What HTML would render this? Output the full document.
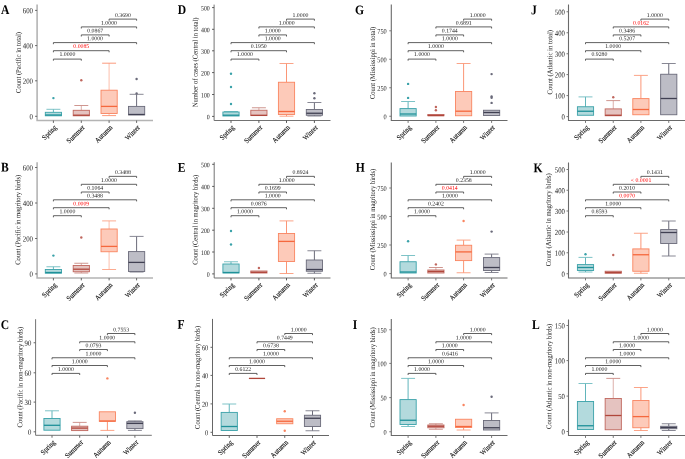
<!DOCTYPE html>
<html><head><meta charset="utf-8"><style>
html,body{margin:0;padding:0;background:#fff;}
svg{display:block;}
text{font-family:"Liberation Serif", serif;}
.lt{font-size:13.2px;font-weight:bold;fill:#000;}
.yl{font-size:7.2px;fill:#111;text-anchor:middle;}
.tk{fill:#222;text-anchor:end;}
.xl{font-size:7.3px;fill:#111;stroke:#111;stroke-width:0.12px;text-anchor:end;}
.bl{font-size:5.8px;fill:#222;text-anchor:middle;}
.bl.r{fill:#f00;}
</style></head><body>
<svg width="685" height="459" viewBox="0 0 685 459">
<rect width="685" height="459" fill="#fff"/>
<g style="will-change:transform">
<g><text transform="translate(1,13.9) rotate(0.05) scale(0.88,1)" class="lt">A</text><text class="yl" transform="translate(20.7,62.5) rotate(-89.95)" textLength="61" lengthAdjust="spacingAndGlyphs">Count (Pacific in total)</text><path d="M37.1 4.5V120.5H153" fill="none" stroke="#b4b4b4" stroke-width="1.6"/><path d="M35.1 116.3H37.1" stroke="#666" stroke-width="1"/><text transform="translate(33,119.2) rotate(0.05) scale(0.86,1)" class="tk" style="font-size:7.91px">0</text><path d="M35.1 80.8H37.1" stroke="#666" stroke-width="1"/><text transform="translate(33,83.7) rotate(0.05) scale(0.86,1)" class="tk" style="font-size:7.91px">200</text><path d="M35.1 45.6H37.1" stroke="#666" stroke-width="1"/><text transform="translate(33,48.5) rotate(0.05) scale(0.86,1)" class="tk" style="font-size:7.91px">400</text><path d="M35.1 10.4H37.1" stroke="#666" stroke-width="1"/><text transform="translate(33,13.3) rotate(0.05) scale(0.86,1)" class="tk" style="font-size:7.91px">600</text><path d="M53.4 120.5V122.9" stroke="#666" stroke-width="1"/><text class="xl" transform="translate(57.2,128) rotate(-45) scale(0.9,1)">Spring</text><path d="M81.3 120.5V122.9" stroke="#666" stroke-width="1"/><text class="xl" transform="translate(85.1,128) rotate(-45) scale(0.9,1)">Summer</text><path d="M109.1 120.5V122.9" stroke="#666" stroke-width="1"/><text class="xl" transform="translate(112.9,128) rotate(-45) scale(0.9,1)">Autumn</text><path d="M136.6 120.5V122.9" stroke="#666" stroke-width="1"/><text class="xl" transform="translate(140.4,128) rotate(-45) scale(0.9,1)">Winter</text><path d="M53.4 112.3V109.3" stroke="#4fadb3" stroke-width="0.9"/><path d="M46.43 109.3H60.37" stroke="#6fbcc1" stroke-width="0.9"/><rect x="45.3" y="112.3" width="16.2" height="3.5" fill="#b3dadd" stroke="#3aa2a9" stroke-width="0.9"/><path d="M45.3 115H61.5" stroke="#1f9199" stroke-width="1.3"/><circle cx="53.4" cy="98.1" r="1.2" fill="#3aa2a9"/><path d="M81.3 110.3V105.5" stroke="#d8a6a0" stroke-width="0.9"/><path d="M74.33 105.5H88.27" stroke="#c98a83" stroke-width="0.9"/><rect x="73.2" y="110.3" width="16.2" height="5.5" fill="#e5c3c0" stroke="#c0675e" stroke-width="0.9"/><path d="M73.2 115.2H89.4" stroke="#b0463b" stroke-width="1.3"/><circle cx="81.3" cy="80.3" r="1.2" fill="#c0675e"/><path d="M109.1 90.2V63.2" stroke="#fcb8a3" stroke-width="0.9"/><path d="M102.13 63.2H116.07" stroke="#fb8f6e" stroke-width="0.9"/><path d="M109.1 113.5V115.6" stroke="#fcb8a3" stroke-width="0.9"/><path d="M102.13 115.6H116.07" stroke="#fb8f6e" stroke-width="0.9"/><rect x="101" y="90.2" width="16.2" height="23.3" fill="#fdcab9" stroke="#f98560" stroke-width="0.9"/><path d="M101 106.4H117.2" stroke="#f5683e" stroke-width="1.3"/><path d="M136.6 106.4V94.3" stroke="#5a5a6a" stroke-width="0.9"/><path d="M129.63 94.3H143.57" stroke="#7a7a88" stroke-width="0.9"/><rect x="128.5" y="106.4" width="16.2" height="8.5" fill="#bdbdc6" stroke="#6a6a7a" stroke-width="0.9"/><path d="M128.5 114.5H144.7" stroke="#404052" stroke-width="1.3"/><circle cx="136.6" cy="79" r="1.2" fill="#6a6a7a"/><circle cx="136.6" cy="93.4" r="1.2" fill="#6a6a7a"/><path d="M53.4 60.7V59.1H81.3V60.7" fill="none" stroke="#444" stroke-width="0.85"/><text transform="translate(67.35,56.1) rotate(0.05)" class="bl">1.0000</text><path d="M53.4 52.3V50.7H109.1V52.3" fill="none" stroke="#444" stroke-width="0.85"/><text transform="translate(81.25,48) rotate(0.05)" class="bl r">0.0085</text><path d="M53.4 44.2V42.6H136.6V44.2" fill="none" stroke="#444" stroke-width="0.85"/><text transform="translate(95,40.2) rotate(0.05)" class="bl">1.0000</text><path d="M81.3 36.5V34.9H109.1V36.5" fill="none" stroke="#444" stroke-width="0.85"/><text transform="translate(95.2,32.4) rotate(0.05)" class="bl">0.0867</text><path d="M81.3 28.5V26.9H136.6V28.5" fill="none" stroke="#444" stroke-width="0.85"/><text transform="translate(108.95,24.7) rotate(0.05)" class="bl">1.0000</text><path d="M109.1 20.7V19.1H136.6V20.7" fill="none" stroke="#444" stroke-width="0.85"/><text transform="translate(122.85,16.9) rotate(0.05)" class="bl">0.3690</text></g>
<g><text transform="translate(1,171.5) rotate(0.05) scale(0.88,1)" class="lt">B</text><text class="yl" transform="translate(20.3,219.8) rotate(-89.95)" textLength="90" lengthAdjust="spacingAndGlyphs">Count (Pacific in magritory birds)</text><path d="M37.1 162.2V278H153" fill="none" stroke="#b4b4b4" stroke-width="1.6"/><path d="M35.1 273.9H37.1" stroke="#666" stroke-width="1"/><text transform="translate(33,276.8) rotate(0.05) scale(0.86,1)" class="tk" style="font-size:7.91px">0</text><path d="M35.1 238.5H37.1" stroke="#666" stroke-width="1"/><text transform="translate(33,241.4) rotate(0.05) scale(0.86,1)" class="tk" style="font-size:7.91px">200</text><path d="M35.1 203H37.1" stroke="#666" stroke-width="1"/><text transform="translate(33,205.9) rotate(0.05) scale(0.86,1)" class="tk" style="font-size:7.91px">400</text><path d="M35.1 167.5H37.1" stroke="#666" stroke-width="1"/><text transform="translate(33,170.4) rotate(0.05) scale(0.86,1)" class="tk" style="font-size:7.91px">600</text><path d="M53.4 278V280.4" stroke="#666" stroke-width="1"/><text class="xl" transform="translate(57.2,285.5) rotate(-45) scale(0.9,1)">Spring</text><path d="M81.3 278V280.4" stroke="#666" stroke-width="1"/><text class="xl" transform="translate(85.1,285.5) rotate(-45) scale(0.9,1)">Summer</text><path d="M109.1 278V280.4" stroke="#666" stroke-width="1"/><text class="xl" transform="translate(112.9,285.5) rotate(-45) scale(0.9,1)">Autumn</text><path d="M136.6 278V280.4" stroke="#666" stroke-width="1"/><text class="xl" transform="translate(140.4,285.5) rotate(-45) scale(0.9,1)">Winter</text><path d="M53.4 269.5V266.75" stroke="#4fadb3" stroke-width="0.9"/><path d="M46.43 266.75H60.37" stroke="#6fbcc1" stroke-width="0.9"/><rect x="45.3" y="269.5" width="16.2" height="3.7" fill="#b3dadd" stroke="#3aa2a9" stroke-width="0.9"/><path d="M45.3 272.5H61.5" stroke="#1f9199" stroke-width="1.3"/><circle cx="53.4" cy="255.6" r="1.2" fill="#3aa2a9"/><path d="M81.3 265.5V263.25" stroke="#d8a6a0" stroke-width="0.9"/><path d="M74.33 263.25H88.27" stroke="#c98a83" stroke-width="0.9"/><path d="M81.3 271.75V273" stroke="#d8a6a0" stroke-width="0.9"/><path d="M74.33 273H88.27" stroke="#c98a83" stroke-width="0.9"/><rect x="73.2" y="265.5" width="16.2" height="6.25" fill="#e5c3c0" stroke="#c0675e" stroke-width="0.9"/><path d="M73.2 269.2H89.4" stroke="#b0463b" stroke-width="1.3"/><circle cx="81.3" cy="237.5" r="1.2" fill="#c0675e"/><path d="M109.1 229V220.9" stroke="#fcb8a3" stroke-width="0.9"/><path d="M102.13 220.9H116.07" stroke="#fca284" stroke-width="0.9"/><path d="M109.1 251.75V269.5" stroke="#fcb8a3" stroke-width="0.9"/><path d="M102.13 269.5H116.07" stroke="#fca284" stroke-width="0.9"/><rect x="101" y="229" width="16.2" height="22.75" fill="#fdcab9" stroke="#f98560" stroke-width="0.9"/><path d="M101 246.4H117.2" stroke="#f5683e" stroke-width="1.3"/><path d="M136.6 251.6V236.4" stroke="#5a5a6a" stroke-width="0.9"/><path d="M129.63 236.4H143.57" stroke="#7a7a88" stroke-width="0.9"/><path d="M136.6 271.5V272" stroke="#5a5a6a" stroke-width="0.9"/><path d="M129.63 272H143.57" stroke="#7a7a88" stroke-width="0.9"/><rect x="128.5" y="251.6" width="16.2" height="19.9" fill="#bdbdc6" stroke="#6a6a7a" stroke-width="0.9"/><path d="M128.5 262.4H144.7" stroke="#404052" stroke-width="1.3"/><path d="M53.4 217.3V215.7H81.3V217.3" fill="none" stroke="#444" stroke-width="0.85"/><text transform="translate(67.35,213.35) rotate(0.05)" class="bl">1.0000</text><path d="M53.4 209.3V207.7H109.1V209.3" fill="none" stroke="#444" stroke-width="0.85"/><text transform="translate(81.25,205.4) rotate(0.05)" class="bl r">0.0009</text><path d="M53.4 201.4V199.8H136.6V201.4" fill="none" stroke="#444" stroke-width="0.85"/><text transform="translate(95,197.6) rotate(0.05)" class="bl">0.3488</text><path d="M81.3 193.6V192H109.1V193.6" fill="none" stroke="#444" stroke-width="0.85"/><text transform="translate(95.2,189.8) rotate(0.05)" class="bl">0.1064</text><path d="M81.3 185.9V184.3H136.6V185.9" fill="none" stroke="#444" stroke-width="0.85"/><text transform="translate(108.95,182) rotate(0.05)" class="bl">1.0000</text><path d="M109.1 177.95V176.35H136.6V177.95" fill="none" stroke="#444" stroke-width="0.85"/><text transform="translate(122.85,174) rotate(0.05)" class="bl">0.3488</text></g>
<g><text transform="translate(0.8,329.1) rotate(0.05) scale(0.88,1)" class="lt">C</text><text class="yl" transform="translate(22.4,377.1) rotate(-89.95)" textLength="100.6" lengthAdjust="spacingAndGlyphs">Count (Pacific in non-magritory birds)</text><path d="M35.6 319.2V435.3H151.8" fill="none" stroke="#737373" stroke-width="1.0"/><path d="M33.6 431.8H35.6" stroke="#666" stroke-width="1"/><text transform="translate(31.3,434.7) rotate(0.05) scale(0.86,1)" class="tk" style="font-size:7.91px">0</text><path d="M33.6 402.1H35.6" stroke="#666" stroke-width="1"/><text transform="translate(31.3,405) rotate(0.05) scale(0.86,1)" class="tk" style="font-size:7.91px">30</text><path d="M33.6 372.8H35.6" stroke="#666" stroke-width="1"/><text transform="translate(31.3,375.7) rotate(0.05) scale(0.86,1)" class="tk" style="font-size:7.91px">60</text><path d="M33.6 342.75H35.6" stroke="#666" stroke-width="1"/><text transform="translate(31.3,345.65) rotate(0.05) scale(0.86,1)" class="tk" style="font-size:7.91px">90</text><path d="M52 435.3V437.7" stroke="#666" stroke-width="1"/><text class="xl" transform="translate(55.8,442.8) rotate(-45) scale(0.9,1)">Spring</text><path d="M79.7 435.3V437.7" stroke="#666" stroke-width="1"/><text class="xl" transform="translate(83.5,442.8) rotate(-45) scale(0.9,1)">Summer</text><path d="M107.4 435.3V437.7" stroke="#666" stroke-width="1"/><text class="xl" transform="translate(111.2,442.8) rotate(-45) scale(0.9,1)">Autumn</text><path d="M134.9 435.3V437.7" stroke="#666" stroke-width="1"/><text class="xl" transform="translate(138.7,442.8) rotate(-45) scale(0.9,1)">Winter</text><path d="M52 418.5V410.8" stroke="#4fadb3" stroke-width="0.9"/><path d="M45.03 410.8H58.97" stroke="#6fbcc1" stroke-width="0.9"/><rect x="43.9" y="418.5" width="16.2" height="11.7" fill="#b3dadd" stroke="#3aa2a9" stroke-width="0.9"/><path d="M43.9 425.3H60.1" stroke="#1f9199" stroke-width="1.3"/><path d="M79.7 426.2V422.4" stroke="#d8a6a0" stroke-width="0.9"/><path d="M72.73 422.4H86.67" stroke="#c98a83" stroke-width="0.9"/><rect x="71.6" y="426.2" width="16.2" height="4.4" fill="#e5c3c0" stroke="#c0675e" stroke-width="0.9"/><path d="M71.6 428.1H87.8" stroke="#b0463b" stroke-width="1.3"/><path d="M107.4 421.3V430.4" stroke="#fa8a66" stroke-width="0.9"/><path d="M100.43 430.4H114.37" stroke="#fb9a7a" stroke-width="0.9"/><rect x="99.3" y="411.8" width="16.2" height="9.5" fill="#fdcab9" stroke="#f98560" stroke-width="0.9"/><path d="M99.3 421H115.5" stroke="#f5683e" stroke-width="1.3"/><circle cx="107.4" cy="378.4" r="1.2" fill="#f98560"/><path d="M134.9 421.7V420.9" stroke="#5a5a6a" stroke-width="0.9"/><path d="M127.93 420.9H141.87" stroke="#7a7a88" stroke-width="0.9"/><path d="M134.9 428.6V430.4" stroke="#5a5a6a" stroke-width="0.9"/><path d="M127.93 430.4H141.87" stroke="#7a7a88" stroke-width="0.9"/><rect x="126.8" y="421.7" width="16.2" height="6.9" fill="#bdbdc6" stroke="#6a6a7a" stroke-width="0.9"/><path d="M126.8 423.4H143" stroke="#404052" stroke-width="1.3"/><circle cx="134.9" cy="412.8" r="1.2" fill="#6a6a7a"/><path d="M52 375V373.4H79.7V375" fill="none" stroke="#444" stroke-width="0.85"/><text transform="translate(65.85,371) rotate(0.05)" class="bl">1.0000</text><path d="M52 367.1V365.5H107.4V367.1" fill="none" stroke="#444" stroke-width="0.85"/><text transform="translate(79.7,363.2) rotate(0.05)" class="bl">1.0000</text><path d="M52 359.35V357.75H134.9V359.35" fill="none" stroke="#444" stroke-width="0.85"/><text transform="translate(93.45,355.5) rotate(0.05)" class="bl">1.0000</text><path d="M79.7 351.1V349.5H107.4V351.1" fill="none" stroke="#444" stroke-width="0.85"/><text transform="translate(93.55,347.3) rotate(0.05)" class="bl">0.0793</text><path d="M79.7 343.35V341.75H134.9V343.35" fill="none" stroke="#444" stroke-width="0.85"/><text transform="translate(107.3,339.6) rotate(0.05)" class="bl">1.0000</text><path d="M107.4 335.1V333.5H134.9V335.1" fill="none" stroke="#444" stroke-width="0.85"/><text transform="translate(121.15,331.4) rotate(0.05)" class="bl">0.7553</text></g>
<g><text transform="translate(177.8,14) rotate(0.05) scale(0.88,1)" class="lt">D</text><text class="yl" transform="translate(197.6,62.4) rotate(-89.95)" textLength="89.8" lengthAdjust="spacingAndGlyphs">Number of cases (Central in total)</text><path d="M214.1 4.6V120.5H330.5" fill="none" stroke="#737373" stroke-width="1.0"/><path d="M212.1 116.4H214.1" stroke="#555" stroke-width="1"/><text transform="translate(209.8,119.3) rotate(0.05) scale(0.86,1)" class="tk" style="font-size:6.86px">0</text><path d="M212.1 94.5H214.1" stroke="#555" stroke-width="1"/><text transform="translate(209.8,97.4) rotate(0.05) scale(0.86,1)" class="tk" style="font-size:6.86px">100</text><path d="M212.1 72.6H214.1" stroke="#555" stroke-width="1"/><text transform="translate(209.8,75.5) rotate(0.05) scale(0.86,1)" class="tk" style="font-size:6.86px">200</text><path d="M212.1 50.8H214.1" stroke="#555" stroke-width="1"/><text transform="translate(209.8,53.7) rotate(0.05) scale(0.86,1)" class="tk" style="font-size:6.86px">300</text><path d="M212.1 29.3H214.1" stroke="#555" stroke-width="1"/><text transform="translate(209.8,32.2) rotate(0.05) scale(0.86,1)" class="tk" style="font-size:6.86px">400</text><path d="M212.1 7.6H214.1" stroke="#555" stroke-width="1"/><text transform="translate(209.8,10.5) rotate(0.05) scale(0.86,1)" class="tk" style="font-size:6.86px">500</text><path d="M231 120.5V122.9" stroke="#555" stroke-width="1"/><text class="xl" transform="translate(234.8,128) rotate(-45) scale(0.9,1)">Spring</text><path d="M258.9 120.5V122.9" stroke="#555" stroke-width="1"/><text class="xl" transform="translate(262.7,128) rotate(-45) scale(0.9,1)">Summer</text><path d="M286.5 120.5V122.9" stroke="#555" stroke-width="1"/><text class="xl" transform="translate(290.3,128) rotate(-45) scale(0.9,1)">Autumn</text><path d="M314.4 120.5V122.9" stroke="#555" stroke-width="1"/><text class="xl" transform="translate(318.2,128) rotate(-45) scale(0.9,1)">Winter</text><path d="M231 112V111.5" stroke="#4fadb3" stroke-width="0.9"/><path d="M224.03 111.5H237.97" stroke="#6fbcc1" stroke-width="0.9"/><rect x="222.9" y="112" width="16.2" height="4" fill="#b3dadd" stroke="#3aa2a9" stroke-width="0.9"/><path d="M222.9 115.2H239.1" stroke="#1f9199" stroke-width="1.3"/><circle cx="231" cy="73.75" r="1.2" fill="#3aa2a9"/><circle cx="231" cy="87" r="1.2" fill="#3aa2a9"/><circle cx="231" cy="104" r="1.2" fill="#3aa2a9"/><path d="M258.9 110.25V107.75" stroke="#d8a6a0" stroke-width="0.9"/><path d="M251.93 107.75H265.87" stroke="#c98a83" stroke-width="0.9"/><rect x="250.8" y="110.25" width="16.2" height="5.35" fill="#e5c3c0" stroke="#c0675e" stroke-width="0.9"/><path d="M250.8 115.3H267" stroke="#b0463b" stroke-width="1.3"/><path d="M286.5 82.25V63.5" stroke="#fa8a66" stroke-width="0.9"/><path d="M279.53 63.5H293.47" stroke="#fb9a7a" stroke-width="0.9"/><path d="M286.5 114.5V116.2" stroke="#fa8a66" stroke-width="0.9"/><path d="M279.53 116.2H293.47" stroke="#fb9a7a" stroke-width="0.9"/><rect x="278.4" y="82.25" width="16.2" height="32.25" fill="#fdcab9" stroke="#f98560" stroke-width="0.9"/><path d="M278.4 111.5H294.6" stroke="#f5683e" stroke-width="1.3"/><path d="M314.4 109.5V102.5" stroke="#5a5a6a" stroke-width="0.9"/><path d="M307.43 102.5H321.37" stroke="#7a7a88" stroke-width="0.9"/><path d="M314.4 115.25V116" stroke="#5a5a6a" stroke-width="0.9"/><path d="M307.43 116H321.37" stroke="#7a7a88" stroke-width="0.9"/><rect x="306.3" y="109.5" width="16.2" height="5.75" fill="#bdbdc6" stroke="#6a6a7a" stroke-width="0.9"/><path d="M306.3 113.25H322.5" stroke="#404052" stroke-width="1.3"/><circle cx="314.4" cy="93.25" r="1.2" fill="#6a6a7a"/><circle cx="314.4" cy="98.25" r="1.2" fill="#6a6a7a"/><path d="M231 60.7V59.1H258.9V60.7" fill="none" stroke="#444" stroke-width="0.85"/><text transform="translate(244.95,56.1) rotate(0.05)" class="bl">1.0000</text><path d="M231 52.3V50.7H286.5V52.3" fill="none" stroke="#444" stroke-width="0.85"/><text transform="translate(258.75,48) rotate(0.05)" class="bl">0.1950</text><path d="M231 44.2V42.6H314.4V44.2" fill="none" stroke="#444" stroke-width="0.85"/><text transform="translate(272.7,40.2) rotate(0.05)" class="bl">1.0000</text><path d="M258.9 36.5V34.9H286.5V36.5" fill="none" stroke="#444" stroke-width="0.85"/><text transform="translate(272.7,32.4) rotate(0.05)" class="bl">1.0000</text><path d="M258.9 28.5V26.9H314.4V28.5" fill="none" stroke="#444" stroke-width="0.85"/><text transform="translate(286.65,24.7) rotate(0.05)" class="bl">1.0000</text><path d="M286.5 20.7V19.1H314.4V20.7" fill="none" stroke="#444" stroke-width="0.85"/><text transform="translate(300.45,16.9) rotate(0.05)" class="bl">1.0000</text></g>
<g><text transform="translate(177.8,171.8) rotate(0.05) scale(0.88,1)" class="lt">E</text><text class="yl" transform="translate(197.6,219.8) rotate(-89.95)" textLength="90" lengthAdjust="spacingAndGlyphs">Count (Central in magritory birds)</text><path d="M214.2 162.2V278H330.5" fill="none" stroke="#737373" stroke-width="1.0"/><path d="M212.2 273.9H214.2" stroke="#555" stroke-width="1"/><text transform="translate(209.8,276.8) rotate(0.05) scale(0.86,1)" class="tk" style="font-size:6.86px">0</text><path d="M212.2 252H214.2" stroke="#555" stroke-width="1"/><text transform="translate(209.8,254.9) rotate(0.05) scale(0.86,1)" class="tk" style="font-size:6.86px">100</text><path d="M212.2 230.2H214.2" stroke="#555" stroke-width="1"/><text transform="translate(209.8,233.1) rotate(0.05) scale(0.86,1)" class="tk" style="font-size:6.86px">200</text><path d="M212.2 208.3H214.2" stroke="#555" stroke-width="1"/><text transform="translate(209.8,211.2) rotate(0.05) scale(0.86,1)" class="tk" style="font-size:6.86px">300</text><path d="M212.2 186.4H214.2" stroke="#555" stroke-width="1"/><text transform="translate(209.8,189.3) rotate(0.05) scale(0.86,1)" class="tk" style="font-size:6.86px">400</text><path d="M212.2 164.3H214.2" stroke="#555" stroke-width="1"/><text transform="translate(209.8,167.2) rotate(0.05) scale(0.86,1)" class="tk" style="font-size:6.86px">500</text><path d="M231 278V280.4" stroke="#555" stroke-width="1"/><text class="xl" transform="translate(234.8,285.5) rotate(-45) scale(0.9,1)">Spring</text><path d="M258.9 278V280.4" stroke="#555" stroke-width="1"/><text class="xl" transform="translate(262.7,285.5) rotate(-45) scale(0.9,1)">Summer</text><path d="M286.5 278V280.4" stroke="#555" stroke-width="1"/><text class="xl" transform="translate(290.3,285.5) rotate(-45) scale(0.9,1)">Autumn</text><path d="M314.4 278V280.4" stroke="#555" stroke-width="1"/><text class="xl" transform="translate(318.2,285.5) rotate(-45) scale(0.9,1)">Winter</text><path d="M231 264V261.75" stroke="#4fadb3" stroke-width="0.9"/><path d="M224.03 261.75H237.97" stroke="#6fbcc1" stroke-width="0.9"/><rect x="222.9" y="264" width="16.2" height="9" fill="#b3dadd" stroke="#3aa2a9" stroke-width="0.9"/><path d="M222.9 272.5H239.1" stroke="#1f9199" stroke-width="1.3"/><circle cx="231" cy="231" r="1.2" fill="#3aa2a9"/><circle cx="231" cy="244.5" r="1.2" fill="#3aa2a9"/><rect x="250.8" y="271" width="16.2" height="2" fill="#e5c3c0" stroke="#c0675e" stroke-width="0.9"/><path d="M250.8 272.3H267" stroke="#b0463b" stroke-width="1.3"/><circle cx="258.9" cy="268" r="1.2" fill="#c0675e"/><path d="M286.5 233.5V220.9" stroke="#fa8a66" stroke-width="0.9"/><path d="M279.53 220.9H293.47" stroke="#fb9a7a" stroke-width="0.9"/><path d="M286.5 261.5V273.5" stroke="#fa8a66" stroke-width="0.9"/><path d="M279.53 273.5H293.47" stroke="#fb9a7a" stroke-width="0.9"/><rect x="278.4" y="233.5" width="16.2" height="28" fill="#fdcab9" stroke="#f98560" stroke-width="0.9"/><path d="M278.4 241.4H294.6" stroke="#f5683e" stroke-width="1.3"/><path d="M314.4 260V250.75" stroke="#5a5a6a" stroke-width="0.9"/><path d="M307.43 250.75H321.37" stroke="#7a7a88" stroke-width="0.9"/><path d="M314.4 271.25V273.25" stroke="#5a5a6a" stroke-width="0.9"/><path d="M307.43 273.25H321.37" stroke="#7a7a88" stroke-width="0.9"/><rect x="306.3" y="260" width="16.2" height="11.25" fill="#bdbdc6" stroke="#6a6a7a" stroke-width="0.9"/><path d="M306.3 269.5H322.5" stroke="#404052" stroke-width="1.3"/><path d="M231 217.3V215.7H258.9V217.3" fill="none" stroke="#444" stroke-width="0.85"/><text transform="translate(244.95,213.35) rotate(0.05)" class="bl">1.0000</text><path d="M231 209.3V207.7H286.5V209.3" fill="none" stroke="#444" stroke-width="0.85"/><text transform="translate(258.75,205.4) rotate(0.05)" class="bl">0.0876</text><path d="M231 201.4V199.8H314.4V201.4" fill="none" stroke="#444" stroke-width="0.85"/><text transform="translate(272.7,197.6) rotate(0.05)" class="bl">1.0000</text><path d="M258.9 193.6V192H286.5V193.6" fill="none" stroke="#444" stroke-width="0.85"/><text transform="translate(272.7,189.8) rotate(0.05)" class="bl">0.1699</text><path d="M258.9 185.9V184.3H314.4V185.9" fill="none" stroke="#444" stroke-width="0.85"/><text transform="translate(286.65,182) rotate(0.05)" class="bl">1.0000</text><path d="M286.5 177.95V176.35H314.4V177.95" fill="none" stroke="#444" stroke-width="0.85"/><text transform="translate(300.45,174) rotate(0.05)" class="bl">0.8924</text></g>
<g><text transform="translate(177.5,328.8) rotate(0.05) scale(0.88,1)" class="lt">F</text><text class="yl" transform="translate(199.8,377.4) rotate(-89.95)" textLength="103" lengthAdjust="spacingAndGlyphs">Count (Central in non-magritory birds)</text><path d="M212.5 318.9V435.5H329" fill="none" stroke="#666666" stroke-width="1.0"/><path d="M210.5 432.3H212.5" stroke="#666" stroke-width="1"/><text transform="translate(208.3,435.2) rotate(0.05) scale(0.86,1)" class="tk" style="font-size:7.44px">0</text><path d="M210.5 403.9H212.5" stroke="#666" stroke-width="1"/><text transform="translate(208.3,406.8) rotate(0.05) scale(0.86,1)" class="tk" style="font-size:7.44px">20</text><path d="M210.5 375.4H212.5" stroke="#666" stroke-width="1"/><text transform="translate(208.3,378.3) rotate(0.05) scale(0.86,1)" class="tk" style="font-size:7.44px">40</text><path d="M210.5 347.3H212.5" stroke="#666" stroke-width="1"/><text transform="translate(208.3,350.2) rotate(0.05) scale(0.86,1)" class="tk" style="font-size:7.44px">60</text><path d="M229.25 435.5V437.9" stroke="#666" stroke-width="1"/><text class="xl" transform="translate(233.05,443) rotate(-45) scale(0.9,1)">Spring</text><path d="M257 435.5V437.9" stroke="#666" stroke-width="1"/><text class="xl" transform="translate(260.8,443) rotate(-45) scale(0.9,1)">Summer</text><path d="M284.75 435.5V437.9" stroke="#666" stroke-width="1"/><text class="xl" transform="translate(288.55,443) rotate(-45) scale(0.9,1)">Autumn</text><path d="M312.5 435.5V437.9" stroke="#666" stroke-width="1"/><text class="xl" transform="translate(316.3,443) rotate(-45) scale(0.9,1)">Winter</text><path d="M229.25 412.4V404" stroke="#4fadb3" stroke-width="0.9"/><path d="M222.28 404H236.22" stroke="#6fbcc1" stroke-width="0.9"/><rect x="221.15" y="412.4" width="16.2" height="18.1" fill="#b3dadd" stroke="#3aa2a9" stroke-width="0.9"/><path d="M221.15 426.5H237.35" stroke="#1f9199" stroke-width="1.3"/><path d="M248.9 378.4H265.1" stroke="#b0463b" stroke-width="1.3"/><rect x="276.65" y="418.75" width="16.2" height="5" fill="#fdcab9" stroke="#f98560" stroke-width="0.9"/><path d="M276.65 421.25H292.85" stroke="#f5683e" stroke-width="1.3"/><circle cx="284.75" cy="411.25" r="1.2" fill="#f98560"/><circle cx="284.75" cy="430.75" r="1.2" fill="#f98560"/><path d="M312.5 415.25V410.75" stroke="#5a5a6a" stroke-width="0.9"/><path d="M305.53 410.75H319.47" stroke="#7a7a88" stroke-width="0.9"/><path d="M312.5 426.5V430.75" stroke="#5a5a6a" stroke-width="0.9"/><path d="M305.53 430.75H319.47" stroke="#7a7a88" stroke-width="0.9"/><rect x="304.4" y="415.25" width="16.2" height="11.25" fill="#bdbdc6" stroke="#6a6a7a" stroke-width="0.9"/><path d="M304.4 418.25H320.6" stroke="#404052" stroke-width="1.3"/><path d="M229.25 375V373.4H257V375" fill="none" stroke="#444" stroke-width="0.85"/><text transform="translate(243.12,371) rotate(0.05)" class="bl">0.6122</text><path d="M229.25 367.1V365.5H284.75V367.1" fill="none" stroke="#444" stroke-width="0.85"/><text transform="translate(257,363.2) rotate(0.05)" class="bl">1.0000</text><path d="M229.25 359.35V357.75H312.5V359.35" fill="none" stroke="#444" stroke-width="0.85"/><text transform="translate(270.88,355.5) rotate(0.05)" class="bl">1.0000</text><path d="M257 351.1V349.5H284.75V351.1" fill="none" stroke="#444" stroke-width="0.85"/><text transform="translate(270.88,347.3) rotate(0.05)" class="bl">0.6738</text><path d="M257 343.35V341.75H312.5V343.35" fill="none" stroke="#444" stroke-width="0.85"/><text transform="translate(284.75,339.6) rotate(0.05)" class="bl">0.7449</text><path d="M284.75 335.1V333.5H312.5V335.1" fill="none" stroke="#444" stroke-width="0.85"/><text transform="translate(298.62,331.4) rotate(0.05)" class="bl">1.0000</text></g>
<g><text transform="translate(355,14.2) rotate(0.05) scale(0.88,1)" class="lt">G</text><text class="yl" transform="translate(374.9,62.95) rotate(-89.95)" textLength="72.3" lengthAdjust="spacingAndGlyphs">Count (Mississippi in total)</text><path d="M391.3 4.5V120.5H507.5" fill="none" stroke="#6a6a6a" stroke-width="1.1"/><path d="M389.3 116.25H391.3" stroke="#777" stroke-width="1"/><text transform="translate(386.7,119.15) rotate(0.05) scale(0.86,1)" class="tk" style="font-size:7.33px">0</text><path d="M389.3 87.75H391.3" stroke="#777" stroke-width="1"/><text transform="translate(386.7,90.65) rotate(0.05) scale(0.86,1)" class="tk" style="font-size:7.33px">250</text><path d="M389.3 59.25H391.3" stroke="#777" stroke-width="1"/><text transform="translate(386.7,62.15) rotate(0.05) scale(0.86,1)" class="tk" style="font-size:7.33px">500</text><path d="M389.3 30.8H391.3" stroke="#777" stroke-width="1"/><text transform="translate(386.7,33.7) rotate(0.05) scale(0.86,1)" class="tk" style="font-size:7.33px">750</text><path d="M408.1 120.5V122.9" stroke="#777" stroke-width="1"/><text class="xl" transform="translate(411.9,128) rotate(-45) scale(0.9,1)">Spring</text><path d="M435.9 120.5V122.9" stroke="#777" stroke-width="1"/><text class="xl" transform="translate(439.7,128) rotate(-45) scale(0.9,1)">Summer</text><path d="M463.6 120.5V122.9" stroke="#777" stroke-width="1"/><text class="xl" transform="translate(467.4,128) rotate(-45) scale(0.9,1)">Autumn</text><path d="M491.6 120.5V122.9" stroke="#777" stroke-width="1"/><text class="xl" transform="translate(495.4,128) rotate(-45) scale(0.9,1)">Winter</text><path d="M408.1 108.6V101.5" stroke="#4fadb3" stroke-width="0.9"/><path d="M401.13 101.5H415.07" stroke="#6fbcc1" stroke-width="0.9"/><rect x="400" y="108.6" width="16.2" height="7.4" fill="#b3dadd" stroke="#3aa2a9" stroke-width="0.9"/><path d="M400 114H416.2" stroke="#1f9199" stroke-width="1.3"/><circle cx="408.1" cy="83.9" r="1.2" fill="#3aa2a9"/><circle cx="408.1" cy="97.9" r="1.2" fill="#3aa2a9"/><rect x="427.8" y="114.5" width="16.2" height="1.25" fill="#e5c3c0" stroke="#c0675e" stroke-width="0.9"/><path d="M427.8 115.5H444" stroke="#b0463b" stroke-width="1.3"/><circle cx="435.9" cy="107" r="1.2" fill="#c0675e"/><circle cx="435.9" cy="110.25" r="1.2" fill="#c0675e"/><path d="M463.6 91.5V63.5" stroke="#fa8a66" stroke-width="0.9"/><path d="M456.63 63.5H470.57" stroke="#fb9a7a" stroke-width="0.9"/><rect x="455.5" y="91.5" width="16.2" height="24.25" fill="#fdcab9" stroke="#f98560" stroke-width="0.9"/><path d="M455.5 111.2H471.7" stroke="#f5683e" stroke-width="1.3"/><rect x="483.5" y="110.25" width="16.2" height="5.25" fill="#bdbdc6" stroke="#6a6a7a" stroke-width="0.9"/><path d="M483.5 112.5H499.7" stroke="#404052" stroke-width="1.3"/><circle cx="491.6" cy="74.1" r="1.2" fill="#6a6a7a"/><circle cx="491.6" cy="96.5" r="1.2" fill="#6a6a7a"/><circle cx="491.6" cy="97.8" r="1.2" fill="#6a6a7a"/><circle cx="491.6" cy="102.9" r="1.2" fill="#6a6a7a"/><path d="M408.1 60.7V59.1H435.9V60.7" fill="none" stroke="#444" stroke-width="0.85"/><text transform="translate(422,56.1) rotate(0.05)" class="bl">1.0000</text><path d="M408.1 52.3V50.7H463.6V52.3" fill="none" stroke="#444" stroke-width="0.85"/><text transform="translate(435.85,48) rotate(0.05)" class="bl">1.0000</text><path d="M408.1 44.2V42.6H491.6V44.2" fill="none" stroke="#444" stroke-width="0.85"/><text transform="translate(449.85,40.2) rotate(0.05)" class="bl">1.0000</text><path d="M435.9 36.5V34.9H463.6V36.5" fill="none" stroke="#444" stroke-width="0.85"/><text transform="translate(449.75,32.4) rotate(0.05)" class="bl">0.1744</text><path d="M435.9 28.5V26.9H491.6V28.5" fill="none" stroke="#444" stroke-width="0.85"/><text transform="translate(463.75,24.7) rotate(0.05)" class="bl">0.6891</text><path d="M463.6 20.7V19.1H491.6V20.7" fill="none" stroke="#444" stroke-width="0.85"/><text transform="translate(477.6,16.9) rotate(0.05)" class="bl">1.0000</text></g>
<g><text transform="translate(355.75,171.75) rotate(0.05) scale(0.88,1)" class="lt">H</text><text class="yl" transform="translate(374.9,219.45) rotate(-89.95)" textLength="101.5" lengthAdjust="spacingAndGlyphs">Count (Mississippi in magritory birds)</text><path d="M391.3 162.5V278H507.5" fill="none" stroke="#6a6a6a" stroke-width="1.1"/><path d="M389.3 273.6H391.3" stroke="#777" stroke-width="1"/><text transform="translate(386.7,276.5) rotate(0.05) scale(0.86,1)" class="tk" style="font-size:7.33px">0</text><path d="M389.3 245H391.3" stroke="#777" stroke-width="1"/><text transform="translate(386.7,247.9) rotate(0.05) scale(0.86,1)" class="tk" style="font-size:7.33px">250</text><path d="M389.3 216.5H391.3" stroke="#777" stroke-width="1"/><text transform="translate(386.7,219.4) rotate(0.05) scale(0.86,1)" class="tk" style="font-size:7.33px">500</text><path d="M389.3 188H391.3" stroke="#777" stroke-width="1"/><text transform="translate(386.7,190.9) rotate(0.05) scale(0.86,1)" class="tk" style="font-size:7.33px">750</text><path d="M408.1 278V280.4" stroke="#777" stroke-width="1"/><text class="xl" transform="translate(411.9,285.5) rotate(-45) scale(0.9,1)">Spring</text><path d="M435.9 278V280.4" stroke="#777" stroke-width="1"/><text class="xl" transform="translate(439.7,285.5) rotate(-45) scale(0.9,1)">Summer</text><path d="M463.6 278V280.4" stroke="#777" stroke-width="1"/><text class="xl" transform="translate(467.4,285.5) rotate(-45) scale(0.9,1)">Autumn</text><path d="M491.6 278V280.4" stroke="#777" stroke-width="1"/><text class="xl" transform="translate(495.4,285.5) rotate(-45) scale(0.9,1)">Winter</text><path d="M408.1 261.75V255.5" stroke="#4fadb3" stroke-width="0.9"/><path d="M401.13 255.5H415.07" stroke="#6fbcc1" stroke-width="0.9"/><rect x="400" y="261.75" width="16.2" height="11.25" fill="#b3dadd" stroke="#3aa2a9" stroke-width="0.9"/><path d="M400 272H416.2" stroke="#1f9199" stroke-width="1.3"/><circle cx="408.1" cy="241.25" r="1.2" fill="#3aa2a9"/><path d="M435.9 270V267.5" stroke="#d8a6a0" stroke-width="0.9"/><path d="M428.93 267.5H442.87" stroke="#c98a83" stroke-width="0.9"/><rect x="427.8" y="270" width="16.2" height="3" fill="#e5c3c0" stroke="#c0675e" stroke-width="0.9"/><path d="M427.8 271.5H444" stroke="#b0463b" stroke-width="1.3"/><circle cx="435.9" cy="264.4" r="1.2" fill="#c0675e"/><path d="M463.6 245.25V240.1" stroke="#fa8a66" stroke-width="0.9"/><path d="M456.63 240.1H470.57" stroke="#fb9a7a" stroke-width="0.9"/><path d="M463.6 260.6V272.75" stroke="#fa8a66" stroke-width="0.9"/><path d="M456.63 272.75H470.57" stroke="#fb9a7a" stroke-width="0.9"/><rect x="455.5" y="245.25" width="16.2" height="15.35" fill="#fdcab9" stroke="#f98560" stroke-width="0.9"/><path d="M455.5 251.9H471.7" stroke="#f5683e" stroke-width="1.3"/><circle cx="463.6" cy="221" r="1.2" fill="#f98560"/><path d="M491.6 257.6V254.1" stroke="#5a5a6a" stroke-width="0.9"/><path d="M484.63 254.1H498.57" stroke="#7a7a88" stroke-width="0.9"/><path d="M491.6 270.5V272.5" stroke="#5a5a6a" stroke-width="0.9"/><path d="M484.63 272.5H498.57" stroke="#7a7a88" stroke-width="0.9"/><rect x="483.5" y="257.6" width="16.2" height="12.9" fill="#bdbdc6" stroke="#6a6a7a" stroke-width="0.9"/><path d="M483.5 267.5H499.7" stroke="#404052" stroke-width="1.3"/><circle cx="491.6" cy="231.6" r="1.2" fill="#6a6a7a"/><path d="M408.1 217.3V215.7H435.9V217.3" fill="none" stroke="#444" stroke-width="0.85"/><text transform="translate(422,213.35) rotate(0.05)" class="bl">1.0000</text><path d="M408.1 209.3V207.7H463.6V209.3" fill="none" stroke="#444" stroke-width="0.85"/><text transform="translate(435.85,205.4) rotate(0.05)" class="bl">0.2402</text><path d="M408.1 201.4V199.8H491.6V201.4" fill="none" stroke="#444" stroke-width="0.85"/><text transform="translate(449.85,197.6) rotate(0.05)" class="bl">1.0000</text><path d="M435.9 193.6V192H463.6V193.6" fill="none" stroke="#444" stroke-width="0.85"/><text transform="translate(449.75,189.8) rotate(0.05)" class="bl r">0.0414</text><path d="M435.9 185.9V184.3H491.6V185.9" fill="none" stroke="#444" stroke-width="0.85"/><text transform="translate(463.75,182) rotate(0.05)" class="bl">0.2358</text><path d="M463.6 177.95V176.35H491.6V177.95" fill="none" stroke="#444" stroke-width="0.85"/><text transform="translate(477.6,174) rotate(0.05)" class="bl">1.0000</text></g>
<g><text transform="translate(352.85,329) rotate(0.05) scale(0.88,1)" class="lt">I</text><text class="yl" transform="translate(374.9,377.35) rotate(-89.95)" textLength="100.1" lengthAdjust="spacingAndGlyphs">Count (Mississippi in magritory birds)</text><path d="M391.3 319V435.5H507.5" fill="none" stroke="#6a6a6a" stroke-width="1.1"/><path d="M389.3 431.75H391.3" stroke="#777" stroke-width="1"/><text transform="translate(386.7,434.65) rotate(0.05) scale(0.86,1)" class="tk" style="font-size:7.33px">0</text><path d="M389.3 397.6H391.3" stroke="#777" stroke-width="1"/><text transform="translate(386.7,400.5) rotate(0.05) scale(0.86,1)" class="tk" style="font-size:7.33px">50</text><path d="M389.3 363.4H391.3" stroke="#777" stroke-width="1"/><text transform="translate(386.7,366.3) rotate(0.05) scale(0.86,1)" class="tk" style="font-size:7.33px">100</text><path d="M389.3 329.75H391.3" stroke="#777" stroke-width="1"/><text transform="translate(386.7,332.65) rotate(0.05) scale(0.86,1)" class="tk" style="font-size:7.33px">150</text><path d="M408.1 435.5V437.9" stroke="#777" stroke-width="1"/><text class="xl" transform="translate(411.9,443) rotate(-45) scale(0.9,1)">Spring</text><path d="M435.9 435.5V437.9" stroke="#777" stroke-width="1"/><text class="xl" transform="translate(439.7,443) rotate(-45) scale(0.9,1)">Summer</text><path d="M463.6 435.5V437.9" stroke="#777" stroke-width="1"/><text class="xl" transform="translate(467.4,443) rotate(-45) scale(0.9,1)">Autumn</text><path d="M491.6 435.5V437.9" stroke="#777" stroke-width="1"/><text class="xl" transform="translate(495.4,443) rotate(-45) scale(0.9,1)">Winter</text><path d="M408.1 399.6V378.4" stroke="#4fadb3" stroke-width="0.9"/><path d="M401.13 378.4H415.07" stroke="#6fbcc1" stroke-width="0.9"/><path d="M408.1 424.5V426.5" stroke="#4fadb3" stroke-width="0.9"/><path d="M401.13 426.5H415.07" stroke="#6fbcc1" stroke-width="0.9"/><rect x="400" y="399.6" width="16.2" height="24.9" fill="#b3dadd" stroke="#3aa2a9" stroke-width="0.9"/><path d="M400 420.25H416.2" stroke="#1f9199" stroke-width="1.3"/><path d="M435.9 425V423.75" stroke="#d8a6a0" stroke-width="0.9"/><path d="M428.93 423.75H442.87" stroke="#c98a83" stroke-width="0.9"/><path d="M435.9 427.75V429.25" stroke="#d8a6a0" stroke-width="0.9"/><path d="M428.93 429.25H442.87" stroke="#c98a83" stroke-width="0.9"/><rect x="427.8" y="425" width="16.2" height="2.75" fill="#e5c3c0" stroke="#c0675e" stroke-width="0.9"/><path d="M427.8 426.25H444" stroke="#b0463b" stroke-width="1.3"/><path d="M463.6 427.5V430" stroke="#fa8a66" stroke-width="0.9"/><path d="M456.63 430H470.57" stroke="#fb9a7a" stroke-width="0.9"/><rect x="455.5" y="419.25" width="16.2" height="8.25" fill="#fdcab9" stroke="#f98560" stroke-width="0.9"/><path d="M455.5 426.5H471.7" stroke="#f5683e" stroke-width="1.3"/><circle cx="463.6" cy="405" r="1.2" fill="#f98560"/><path d="M491.6 420.5V412.9" stroke="#5a5a6a" stroke-width="0.9"/><path d="M484.63 412.9H498.57" stroke="#7a7a88" stroke-width="0.9"/><rect x="483.5" y="420.5" width="16.2" height="9.5" fill="#bdbdc6" stroke="#6a6a7a" stroke-width="0.9"/><path d="M483.5 427.75H499.7" stroke="#404052" stroke-width="1.3"/><circle cx="491.6" cy="396.75" r="1.2" fill="#6a6a7a"/><path d="M408.1 375V373.4H435.9V375" fill="none" stroke="#444" stroke-width="0.85"/><text transform="translate(422,371) rotate(0.05)" class="bl">1.0000</text><path d="M408.1 367.1V365.5H463.6V367.1" fill="none" stroke="#444" stroke-width="0.85"/><text transform="translate(435.85,363.2) rotate(0.05)" class="bl">1.0000</text><path d="M408.1 359.35V357.75H491.6V359.35" fill="none" stroke="#444" stroke-width="0.85"/><text transform="translate(449.85,355.5) rotate(0.05)" class="bl">0.6416</text><path d="M435.9 351.1V349.5H463.6V351.1" fill="none" stroke="#444" stroke-width="0.85"/><text transform="translate(449.75,347.3) rotate(0.05)" class="bl">1.0000</text><path d="M435.9 343.35V341.75H491.6V343.35" fill="none" stroke="#444" stroke-width="0.85"/><text transform="translate(463.75,339.6) rotate(0.05)" class="bl">1.0000</text><path d="M463.6 335.1V333.5H491.6V335.1" fill="none" stroke="#444" stroke-width="0.85"/><text transform="translate(477.6,331.4) rotate(0.05)" class="bl">1.0000</text></g>
<g><text transform="translate(531,14.25) rotate(0.05) scale(0.88,1)" class="lt">J</text><text class="yl" transform="translate(552.3,62.2) rotate(-89.95)" textLength="64.6" lengthAdjust="spacingAndGlyphs">Count (Atlantic in total)</text><path d="M568.5 4.5V120.5H685" fill="none" stroke="#6a6a6a" stroke-width="1.1"/><path d="M566.5 116.6H568.5" stroke="#777" stroke-width="1"/><text transform="translate(564.9,119.5) rotate(0.05) scale(0.86,1)" class="tk" style="font-size:7.79px">0</text><path d="M566.5 95.6H568.5" stroke="#777" stroke-width="1"/><text transform="translate(564.9,98.5) rotate(0.05) scale(0.86,1)" class="tk" style="font-size:7.79px">100</text><path d="M566.5 74.6H568.5" stroke="#777" stroke-width="1"/><text transform="translate(564.9,77.5) rotate(0.05) scale(0.86,1)" class="tk" style="font-size:7.79px">200</text><path d="M566.5 53.75H568.5" stroke="#777" stroke-width="1"/><text transform="translate(564.9,56.65) rotate(0.05) scale(0.86,1)" class="tk" style="font-size:7.79px">300</text><path d="M566.5 32.75H568.5" stroke="#777" stroke-width="1"/><text transform="translate(564.9,35.65) rotate(0.05) scale(0.86,1)" class="tk" style="font-size:7.79px">400</text><path d="M566.5 11.75H568.5" stroke="#777" stroke-width="1"/><text transform="translate(564.9,14.65) rotate(0.05) scale(0.86,1)" class="tk" style="font-size:7.79px">500</text><path d="M585.5 120.5V122.9" stroke="#777" stroke-width="1"/><text class="xl" transform="translate(589.3,128) rotate(-45) scale(0.9,1)">Spring</text><path d="M613.25 120.5V122.9" stroke="#777" stroke-width="1"/><text class="xl" transform="translate(617.05,128) rotate(-45) scale(0.9,1)">Summer</text><path d="M640.9 120.5V122.9" stroke="#777" stroke-width="1"/><text class="xl" transform="translate(644.7,128) rotate(-45) scale(0.9,1)">Autumn</text><path d="M668.75 120.5V122.9" stroke="#777" stroke-width="1"/><text class="xl" transform="translate(672.55,128) rotate(-45) scale(0.9,1)">Winter</text><path d="M585.5 106.75V96.9" stroke="#4fadb3" stroke-width="0.9"/><path d="M578.53 96.9H592.47" stroke="#6fbcc1" stroke-width="0.9"/><rect x="577.4" y="106.75" width="16.2" height="8.5" fill="#b3dadd" stroke="#3aa2a9" stroke-width="0.9"/><path d="M577.4 111.25H593.6" stroke="#1f9199" stroke-width="1.3"/><path d="M613.25 108.9V100.6" stroke="#d8a6a0" stroke-width="0.9"/><path d="M606.28 100.6H620.22" stroke="#c98a83" stroke-width="0.9"/><rect x="605.15" y="108.9" width="16.2" height="6.85" fill="#e5c3c0" stroke="#c0675e" stroke-width="0.9"/><path d="M605.15 115.25H621.35" stroke="#b0463b" stroke-width="1.3"/><circle cx="613.25" cy="97.25" r="1.2" fill="#c0675e"/><path d="M640.9 98.6V75.4" stroke="#fa8a66" stroke-width="0.9"/><path d="M633.93 75.4H647.87" stroke="#fb9a7a" stroke-width="0.9"/><rect x="632.8" y="98.6" width="16.2" height="16.15" fill="#fdcab9" stroke="#f98560" stroke-width="0.9"/><path d="M632.8 109.5H649" stroke="#f5683e" stroke-width="1.3"/><path d="M668.75 74.25V63.5" stroke="#5a5a6a" stroke-width="0.9"/><path d="M661.78 63.5H675.72" stroke="#7a7a88" stroke-width="0.9"/><rect x="660.65" y="74.25" width="16.2" height="40.5" fill="#bdbdc6" stroke="#6a6a7a" stroke-width="0.9"/><path d="M660.65 98.5H676.85" stroke="#404052" stroke-width="1.3"/><path d="M585.5 60.7V59.1H613.25V60.7" fill="none" stroke="#444" stroke-width="0.85"/><text transform="translate(599.38,56.1) rotate(0.05)" class="bl">0.9280</text><path d="M585.5 52.3V50.7H640.9V52.3" fill="none" stroke="#444" stroke-width="0.85"/><text transform="translate(613.2,48) rotate(0.05)" class="bl">1.0000</text><path d="M585.5 44.2V42.6H668.75V44.2" fill="none" stroke="#444" stroke-width="0.85"/><text transform="translate(627.12,40.2) rotate(0.05)" class="bl">0.5207</text><path d="M613.25 36.5V34.9H640.9V36.5" fill="none" stroke="#444" stroke-width="0.85"/><text transform="translate(627.08,32.4) rotate(0.05)" class="bl">0.3486</text><path d="M613.25 28.5V26.9H668.75V28.5" fill="none" stroke="#444" stroke-width="0.85"/><text transform="translate(641,24.7) rotate(0.05)" class="bl r">0.0162</text><path d="M640.9 20.7V19.1H668.75V20.7" fill="none" stroke="#444" stroke-width="0.85"/><text transform="translate(654.83,16.9) rotate(0.05)" class="bl">1.0000</text></g>
<g><text transform="translate(533.5,172.25) rotate(0.05) scale(0.88,1)" class="lt">K</text><text class="yl" transform="translate(550.8,219.8) rotate(-89.95)" textLength="93" lengthAdjust="spacingAndGlyphs">Count (Atlantic in magritory birds)</text><path d="M568.5 162.5V278H685" fill="none" stroke="#6a6a6a" stroke-width="1.1"/><path d="M566.5 273.75H568.5" stroke="#777" stroke-width="1"/><text transform="translate(564.9,276.65) rotate(0.05) scale(0.86,1)" class="tk" style="font-size:7.79px">0</text><path d="M566.5 252.75H568.5" stroke="#777" stroke-width="1"/><text transform="translate(564.9,255.65) rotate(0.05) scale(0.86,1)" class="tk" style="font-size:7.79px">100</text><path d="M566.5 232H568.5" stroke="#777" stroke-width="1"/><text transform="translate(564.9,234.9) rotate(0.05) scale(0.86,1)" class="tk" style="font-size:7.79px">200</text><path d="M566.5 211H568.5" stroke="#777" stroke-width="1"/><text transform="translate(564.9,213.9) rotate(0.05) scale(0.86,1)" class="tk" style="font-size:7.79px">300</text><path d="M566.5 190.25H568.5" stroke="#777" stroke-width="1"/><text transform="translate(564.9,193.15) rotate(0.05) scale(0.86,1)" class="tk" style="font-size:7.79px">400</text><path d="M566.5 169.5H568.5" stroke="#777" stroke-width="1"/><text transform="translate(564.9,172.4) rotate(0.05) scale(0.86,1)" class="tk" style="font-size:7.79px">500</text><path d="M585.5 278V280.4" stroke="#777" stroke-width="1"/><text class="xl" transform="translate(589.3,285.5) rotate(-45) scale(0.9,1)">Spring</text><path d="M613.25 278V280.4" stroke="#777" stroke-width="1"/><text class="xl" transform="translate(617.05,285.5) rotate(-45) scale(0.9,1)">Summer</text><path d="M640.9 278V280.4" stroke="#777" stroke-width="1"/><text class="xl" transform="translate(644.7,285.5) rotate(-45) scale(0.9,1)">Autumn</text><path d="M668.75 278V280.4" stroke="#777" stroke-width="1"/><text class="xl" transform="translate(672.55,285.5) rotate(-45) scale(0.9,1)">Winter</text><path d="M585.5 264.6V257.4" stroke="#4fadb3" stroke-width="0.9"/><path d="M578.53 257.4H592.47" stroke="#6fbcc1" stroke-width="0.9"/><path d="M585.5 270.5V272" stroke="#4fadb3" stroke-width="0.9"/><path d="M578.53 272H592.47" stroke="#6fbcc1" stroke-width="0.9"/><rect x="577.4" y="264.6" width="16.2" height="5.9" fill="#b3dadd" stroke="#3aa2a9" stroke-width="0.9"/><path d="M577.4 267.5H593.6" stroke="#1f9199" stroke-width="1.3"/><circle cx="585.5" cy="254.25" r="1.2" fill="#3aa2a9"/><rect x="605.15" y="271.25" width="16.2" height="2" fill="#e5c3c0" stroke="#c0675e" stroke-width="0.9"/><path d="M605.15 272.5H621.35" stroke="#b0463b" stroke-width="1.3"/><circle cx="613.25" cy="255" r="1.2" fill="#c0675e"/><path d="M640.9 248.9V233.25" stroke="#fa8a66" stroke-width="0.9"/><path d="M633.93 233.25H647.87" stroke="#fb9a7a" stroke-width="0.9"/><path d="M640.9 271.25V273.25" stroke="#fa8a66" stroke-width="0.9"/><path d="M633.93 273.25H647.87" stroke="#fb9a7a" stroke-width="0.9"/><rect x="632.8" y="248.9" width="16.2" height="22.35" fill="#fdcab9" stroke="#f98560" stroke-width="0.9"/><path d="M632.8 254.75H649" stroke="#f5683e" stroke-width="1.3"/><path d="M668.75 229.6V221" stroke="#5a5a6a" stroke-width="0.9"/><path d="M661.78 221H675.72" stroke="#7a7a88" stroke-width="0.9"/><path d="M668.75 243.5V256" stroke="#5a5a6a" stroke-width="0.9"/><path d="M661.78 256H675.72" stroke="#7a7a88" stroke-width="0.9"/><rect x="660.65" y="229.6" width="16.2" height="13.9" fill="#bdbdc6" stroke="#6a6a7a" stroke-width="0.9"/><path d="M660.65 232.5H676.85" stroke="#404052" stroke-width="1.3"/><path d="M585.5 217.3V215.7H613.25V217.3" fill="none" stroke="#444" stroke-width="0.85"/><text transform="translate(599.38,213.35) rotate(0.05)" class="bl">0.8593</text><path d="M585.5 209.3V207.7H640.9V209.3" fill="none" stroke="#444" stroke-width="0.85"/><text transform="translate(613.2,205.4) rotate(0.05)" class="bl">1.0000</text><path d="M585.5 201.4V199.8H668.75V201.4" fill="none" stroke="#444" stroke-width="0.85"/><text transform="translate(627.12,197.6) rotate(0.05)" class="bl r">0.0070</text><path d="M613.25 193.6V192H640.9V193.6" fill="none" stroke="#444" stroke-width="0.85"/><text transform="translate(627.08,189.8) rotate(0.05)" class="bl">0.2010</text><path d="M613.25 185.9V184.3H668.75V185.9" fill="none" stroke="#444" stroke-width="0.85"/><text transform="translate(641,182) rotate(0.05)" class="bl r">&lt; 0.0001</text><path d="M640.9 177.95V176.35H668.75V177.95" fill="none" stroke="#444" stroke-width="0.85"/><text transform="translate(654.83,174) rotate(0.05)" class="bl">0.1431</text></g>
<g><text transform="translate(532,329) rotate(0.05) scale(0.88,1)" class="lt">L</text><text class="yl" transform="translate(551.4,376.3) rotate(-89.95)" textLength="105.2" lengthAdjust="spacingAndGlyphs">Count (Atlantic in non-magritory birds)</text><path d="M568.5 319.5V435.5H685" fill="none" stroke="#6a6a6a" stroke-width="1.1"/><path d="M566.5 431.5H568.5" stroke="#777" stroke-width="1"/><text transform="translate(564.9,434.4) rotate(0.05) scale(0.86,1)" class="tk" style="font-size:7.79px">0</text><path d="M566.5 396.1H568.5" stroke="#777" stroke-width="1"/><text transform="translate(564.9,399) rotate(0.05) scale(0.86,1)" class="tk" style="font-size:7.79px">50</text><path d="M566.5 360.6H568.5" stroke="#777" stroke-width="1"/><text transform="translate(564.9,363.5) rotate(0.05) scale(0.86,1)" class="tk" style="font-size:7.79px">100</text><path d="M566.5 325.5H568.5" stroke="#777" stroke-width="1"/><text transform="translate(564.9,328.4) rotate(0.05) scale(0.86,1)" class="tk" style="font-size:7.79px">150</text><path d="M585.5 435.5V437.9" stroke="#777" stroke-width="1"/><text class="xl" transform="translate(589.3,443) rotate(-45) scale(0.9,1)">Spring</text><path d="M613.25 435.5V437.9" stroke="#777" stroke-width="1"/><text class="xl" transform="translate(617.05,443) rotate(-45) scale(0.9,1)">Summer</text><path d="M640.9 435.5V437.9" stroke="#777" stroke-width="1"/><text class="xl" transform="translate(644.7,443) rotate(-45) scale(0.9,1)">Autumn</text><path d="M668.75 435.5V437.9" stroke="#777" stroke-width="1"/><text class="xl" transform="translate(672.55,443) rotate(-45) scale(0.9,1)">Winter</text><path d="M585.5 401.5V383.5" stroke="#4fadb3" stroke-width="0.9"/><path d="M578.53 383.5H592.47" stroke="#6fbcc1" stroke-width="0.9"/><rect x="577.4" y="401.5" width="16.2" height="28" fill="#b3dadd" stroke="#3aa2a9" stroke-width="0.9"/><path d="M577.4 425.75H593.6" stroke="#1f9199" stroke-width="1.3"/><path d="M613.25 398.5V378.4" stroke="#d8a6a0" stroke-width="0.9"/><path d="M606.28 378.4H620.22" stroke="#c98a83" stroke-width="0.9"/><rect x="605.15" y="398.5" width="16.2" height="31.25" fill="#e5c3c0" stroke="#c0675e" stroke-width="0.9"/><path d="M605.15 415.5H621.35" stroke="#b0463b" stroke-width="1.3"/><path d="M640.9 400.5V387.5" stroke="#fa8a66" stroke-width="0.9"/><path d="M633.93 387.5H647.87" stroke="#fb9a7a" stroke-width="0.9"/><path d="M640.9 427.75V430.5" stroke="#fa8a66" stroke-width="0.9"/><path d="M633.93 430.5H647.87" stroke="#fb9a7a" stroke-width="0.9"/><rect x="632.8" y="400.5" width="16.2" height="27.25" fill="#fdcab9" stroke="#f98560" stroke-width="0.9"/><path d="M632.8 416.6H649" stroke="#f5683e" stroke-width="1.3"/><path d="M668.75 426.25V423.75" stroke="#5a5a6a" stroke-width="0.9"/><path d="M661.78 423.75H675.72" stroke="#7a7a88" stroke-width="0.9"/><path d="M668.75 428.75V430.5" stroke="#5a5a6a" stroke-width="0.9"/><path d="M661.78 430.5H675.72" stroke="#7a7a88" stroke-width="0.9"/><rect x="660.65" y="426.25" width="16.2" height="2.5" fill="#bdbdc6" stroke="#6a6a7a" stroke-width="0.9"/><path d="M660.65 427.5H676.85" stroke="#404052" stroke-width="1.3"/><path d="M585.5 375V373.4H613.25V375" fill="none" stroke="#444" stroke-width="0.85"/><text transform="translate(599.38,371) rotate(0.05)" class="bl">1.0000</text><path d="M585.5 367.1V365.5H640.9V367.1" fill="none" stroke="#444" stroke-width="0.85"/><text transform="translate(613.2,363.2) rotate(0.05)" class="bl">1.0000</text><path d="M585.5 359.35V357.75H668.75V359.35" fill="none" stroke="#444" stroke-width="0.85"/><text transform="translate(627.12,355.5) rotate(0.05)" class="bl">1.0000</text><path d="M613.25 351.1V349.5H640.9V351.1" fill="none" stroke="#444" stroke-width="0.85"/><text transform="translate(627.08,347.3) rotate(0.05)" class="bl">1.0000</text><path d="M613.25 343.35V341.75H668.75V343.35" fill="none" stroke="#444" stroke-width="0.85"/><text transform="translate(641,339.6) rotate(0.05)" class="bl">1.0000</text><path d="M640.9 335.1V333.5H668.75V335.1" fill="none" stroke="#444" stroke-width="0.85"/><text transform="translate(654.83,331.4) rotate(0.05)" class="bl">1.0000</text></g>
</g>
</svg>
</body></html>
